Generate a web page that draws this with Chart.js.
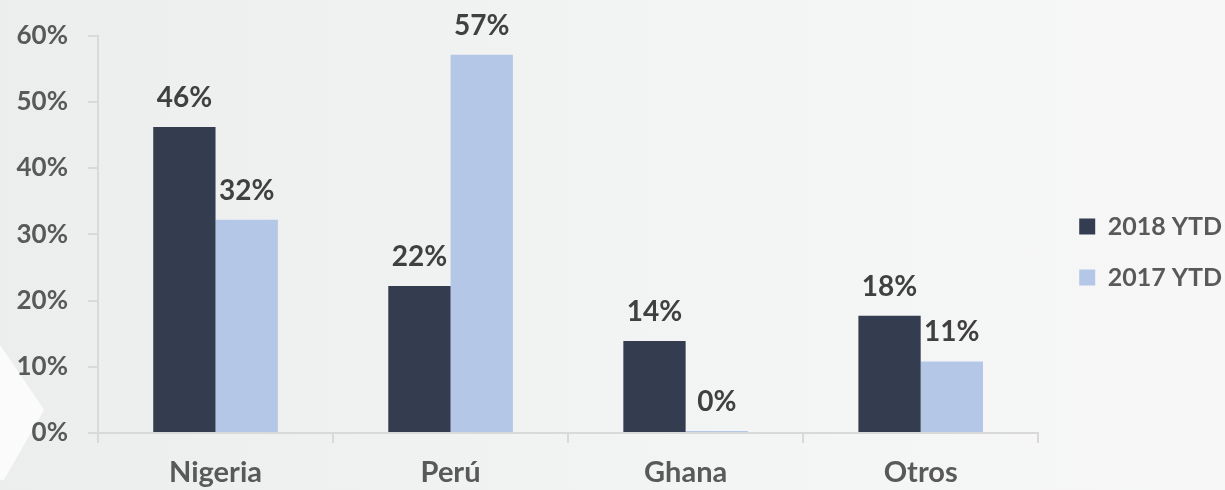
<!DOCTYPE html>
<html>
<head>
<meta charset="utf-8">
<title>2018 vs 2017 YTD</title>
<script src="https://cdn.jsdelivr.net/npm/chart.js@4/dist/chart.umd.min.js"></script>
<style>
  html, body { margin: 0; padding: 0; }
  body {
    width: 1225px; height: 490px; overflow: hidden; position: relative;
    background: linear-gradient(to right, #eceeee 0%, #f0f1f1 35%, #f4f5f5 70%, #f7f7f7 100%);
  }
  /* flecha blanca decorativa abajo a la izquierda */
  .flecha {
    position: absolute; left: 0; top: 345px; width: 48px; height: 135px;
    background: #fbfbfb;
    clip-path: polygon(0 0, 0% 0, 92% 48%, 8% 100%, 0 100%);
  }
  #wrap { position: absolute; left: 0; top: 0; width: 1225px; height: 490px; }
</style>
</head>
<body>
<div class="flecha"></div>
<div id="wrap"><canvas id="grafico"></canvas></div>
<script>
// Datos
const categories = ["Nigeria", "Perú", "Ghana", "Otros"];
const ytd2018 = [46.2, 22.2, 13.9, 17.7];
const ytd2017 = [32.2, 57.1, 0.3, 10.8];
const seriesLabels = ["2018 YTD", "2017 YTD"];
const yTicks = [0, 10, 20, 30, 40, 50, 60];

const FONT = "Lato";

// Etiquetas de valor encima de cada barra
const etiquetasValor = {
  id: "etiquetasValor",
  afterDatasetsDraw(chart) {
    const ctx = chart.ctx;
    ctx.save();
    ctx.font = "bold 28px " + FONT;
    ctx.fillStyle = "#404040";
    ctx.textAlign = "center";
    ctx.textBaseline = "alphabetic";
    chart.data.datasets.forEach((ds, i) => {
      chart.getDatasetMeta(i).data.forEach((bar, j) => {
        ctx.fillText(Math.round(ds.data[j]) + "%", bar.x, bar.y - 20);
      });
    });
    ctx.restore();
  },
};

// Separar un poco la leyenda del área del gráfico
const moverLeyenda = {
  id: "moverLeyenda",
  afterLayout(chart) {
    const lg = chart.legend;
    if (!lg) return;
    lg.left += 15;
    lg.right += 15;
    lg.top -= 8;
    lg.bottom -= 8;
  },
};

new Chart(document.getElementById("grafico"), {
  type: "bar",
  data: {
    labels: categories,
    datasets: [
      {
        label: seriesLabels[0],
        data: ytd2018,
        backgroundColor: "#333d4f",
        categoryPercentage: 0.53,
        barPercentage: 1.0,
      },
      {
        label: seriesLabels[1],
        data: ytd2017,
        backgroundColor: "#b4c7e7",
        categoryPercentage: 0.53,
        barPercentage: 1.0,
      },
    ],
  },
  options: {
    responsive: true,
    maintainAspectRatio: false,
    animation: false,
    layout: { padding: { top: 30, left: 12, right: 8, bottom: 0 } },
    plugins: {
      tooltip: { enabled: false },
      legend: {
        position: "right",
        labels: {
          boxWidth: 16,
          boxHeight: 16,
          padding: 26,
          color: "#595959",
          font: { family: FONT, size: 25, weight: "bold" },
        },
      },
    },
    scales: {
      x: {
        afterFit: (axis) => { axis.height = 57; },
        grid: { drawOnChartArea: false, tickLength: 10, color: "#d9d9d9", lineWidth: 2 },
        border: { color: "#d9d9d9", width: 2 },
        ticks: {
          padding: 12,
          color: "#595959",
          font: { family: FONT, size: 29, weight: "bold" },
        },
      },
      y: {
        min: yTicks[0],
        max: yTicks[yTicks.length - 1],
        afterBuildTicks: (axis) => {
          axis.ticks = yTicks.map((v) => ({ value: v }));
        },
        afterFit: (axis) => { axis.width = 86; },
        grid: { drawOnChartArea: false, tickLength: 10, color: "#d9d9d9", lineWidth: 2 },
        border: { color: "#d9d9d9", width: 2 },
        ticks: {
          padding: 20,
          color: "#595959",
          font: { family: FONT, size: 26, weight: "bold" },
          callback: (value) => value + "%",
        },
      },
    },
  },
  plugins: [etiquetasValor, moverLeyenda],
});
</script>
</body>
</html>
